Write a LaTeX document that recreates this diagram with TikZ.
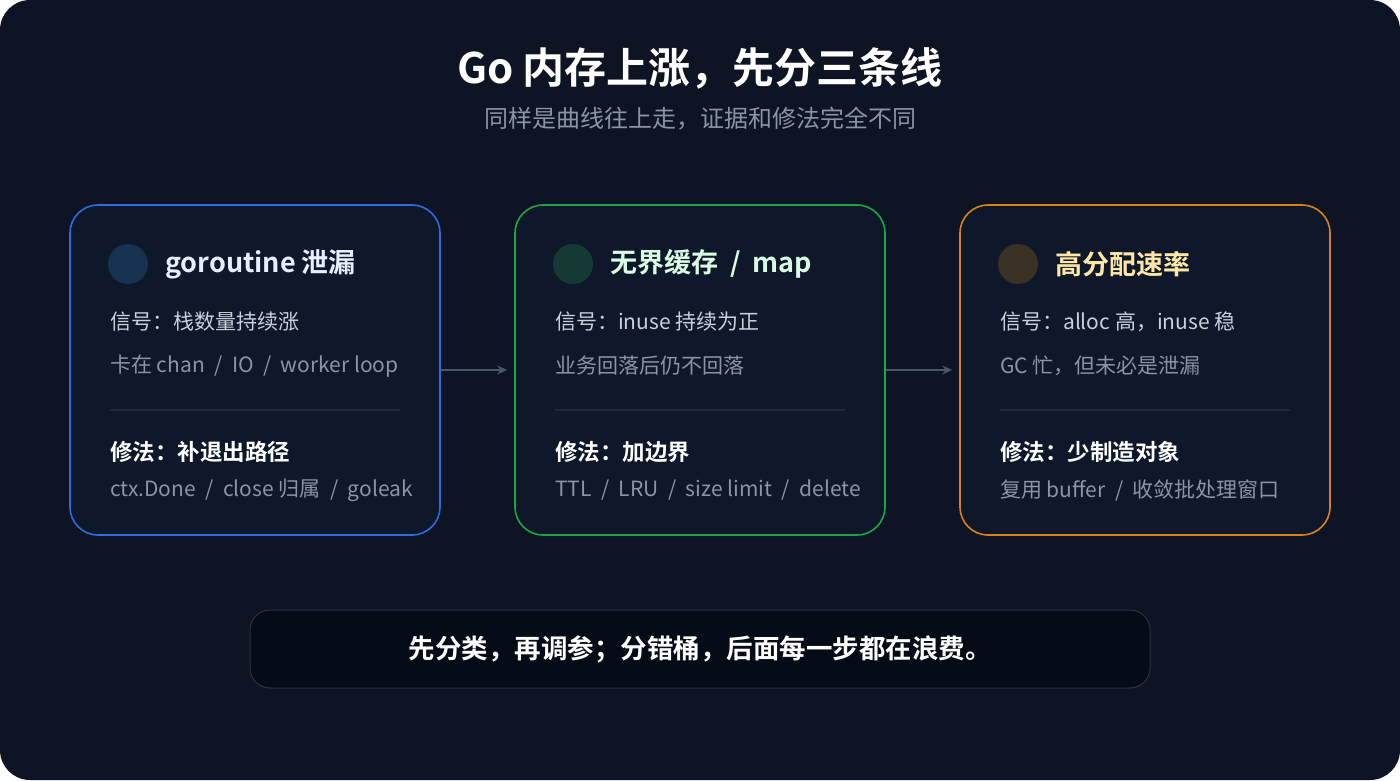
\documentclass[tikz,border=0pt]{standalone}
\usepackage{fontspec}
\setmainfont{Noto Sans CJK SC}
\newfontfamily\cjkb{Noto Sans CJK SC Bold}
\usetikzlibrary{arrows.meta}
\definecolor{bgc}{HTML}{0E1423}
\definecolor{cardc}{HTML}{0F182A}
\definecolor{bluec}{HTML}{2D6BE0}
\definecolor{greenc}{HTML}{1FA544}
\definecolor{orangec}{HTML}{D9821A}
\definecolor{sigc}{HTML}{C8D0DC}
\definecolor{subc}{HTML}{8A94A6}
\definecolor{divc}{HTML}{1F2839}
\definecolor{arrc}{HTML}{4A566B}
\definecolor{botc}{HTML}{060B18}
\definecolor{botb}{HTML}{2A3344}
\tikzset{
 card/.style={draw=#1,line width=1.6pt,rounded corners=28pt,fill=cardc,minimum width=370pt,minimum height=330pt,inner sep=0pt},
 txt/.style={anchor=west,inner sep=0pt,font=\fontsize{21}{24}\selectfont},
 head/.style={anchor=west,inner sep=0pt,font=\cjkb\fontsize{27}{30}\selectfont},
 fixt/.style={anchor=west,inner sep=0pt,text=white,font=\cjkb\fontsize{22.5}{26}\selectfont},
 arr/.style={draw=arrc,line width=1.2pt,-{Stealth[length=10pt,width=9pt]}}
}
\newcommand{\myslash}{\hspace{0.45em}/\hspace{0.45em}}
\begin{document}
\begin{tikzpicture}[x=1pt,y=-1pt]
\fill[white] (0,0) rectangle (1400,780);
\fill[bgc,rounded corners=30pt] (0,0) rectangle (1400,780);
\node[text=white,font=\cjkb\fontsize{42}{48}\selectfont] (title) at (700,68) {Go 内存上涨，先分三条线};
\node[text=subc,font=\fontsize{24}{28}\selectfont] (subtitle) at (700,119) {同样是曲线往上走，证据和修法完全不同};
\node[card=bluec] (c1) at (255,370) {};
\node[card=greenc] (c2) at (700,370) {};
\node[card=orangec] (c3) at (1145,370) {};
\foreach \n/\x/\cc/\hc/\h/\a/\b/\f/\g in {
 1/70/173352/E6EFFF/{goroutine 泄漏}/{信号：栈数量持续涨}/{卡在 chan\myslash IO\myslash worker loop}/{修法：补退出路径}/{ctx.Done\myslash close 归属\myslash goleak},
 2/515/143A33/D8FBE2/{无界缓存\myslash map}/{信号：inuse 持续为正}/{业务回落后仍不回落}/{修法：加边界}/{TTL\myslash LRU\myslash size limit\myslash delete},
 3/960/3A3024/FDE7A8/{高分配速率}/{信号：alloc 高，inuse 稳}/{GC 忙，但未必是泄漏}/{修法：少制造对象}/{复用 buffer\myslash 收敛批处理窗口}}{
 \definecolor{dotc}{HTML}{\cc}\definecolor{hdc}{HTML}{\hc}
 \fill[dotc] (\x+58,264) circle (20pt);
 \node[head,text=hdc] (h\n) at (\x+95,264) {\h};
 \node[txt,text=sigc] (s\n) at (\x+40,322) {\a};
 \node[txt,text=subc] (d\n) at (\x+40,366) {\b};
 \draw[divc,line width=1.2pt] (\x+40,410) -- (\x+330,410);
 \node[fixt] (f\n) at (\x+40,452) {\f};
 \node[txt,text=subc] (g\n) at (\x+40,490) {\g};
}
\draw[arr] (c1.east) -- ([xshift=-7pt]c2.west);
\draw[arr] (c2.east) -- ([xshift=-7pt]c3.west);
\node[draw=botb,line width=1pt,fill=botc,rounded corners=20pt,minimum width=900pt,minimum height=78pt,text=white,font=\cjkb\fontsize{26.5}{30}\selectfont] (bottom) at (700,649) {先分类，再调参；分错桶，后面每一步都在浪费。};
\end{tikzpicture}
\end{document}
